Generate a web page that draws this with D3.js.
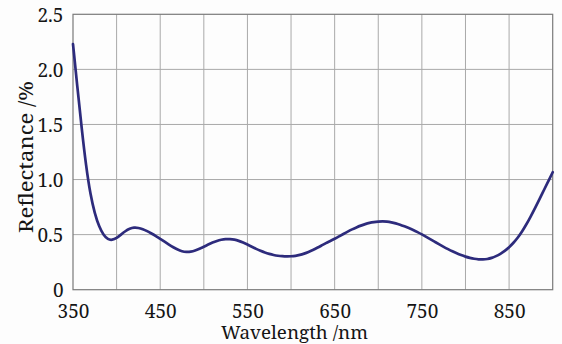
<!DOCTYPE html>
<html>
<head>
<meta charset="utf-8">
<script src="https://cdn.jsdelivr.net/npm/d3@7"></script>
<style>
  html, body { margin: 0; padding: 0; background: #fdfdfd; }
  svg { display: block; }
</style>
</head>
<body>
<svg id="chart" width="562" height="344"></svg>
<script>
// ---- data ----
const wavelength = [350,355,360,365,370,375,380,385,390,395,400,405,410,415,420,425,430,435,440,445,450,455,460,465,470,475,480,485,490,495,500,505,510,515,520,525,530,535,540,545,550,555,560,565,570,575,580,585,590,595,600,605,610,615,620,625,630,635,640,645,650,655,660,665,670,675,680,685,690,695,700,705,710,715,720,725,730,735,740,745,750,755,760,765,770,775,780,785,790,795,800,805,810,815,820,825,830,835,840,845,850,855,860,865,870,875,880,885,890,895,900];
const reflectance = [2.23,1.84,1.46,1.12,0.86,0.69,0.57,0.495,0.455,0.45,0.468,0.5,0.532,0.555,0.565,0.562,0.55,0.532,0.51,0.487,0.462,0.436,0.41,0.385,0.363,0.348,0.342,0.344,0.355,0.372,0.39,0.41,0.428,0.443,0.454,0.46,0.46,0.455,0.444,0.428,0.41,0.39,0.37,0.352,0.337,0.325,0.315,0.308,0.304,0.302,0.303,0.307,0.315,0.327,0.342,0.36,0.38,0.401,0.423,0.442,0.462,0.484,0.506,0.528,0.548,0.566,0.582,0.596,0.607,0.614,0.618,0.62,0.618,0.612,0.603,0.59,0.575,0.56,0.543,0.523,0.502,0.48,0.457,0.434,0.411,0.389,0.368,0.348,0.33,0.314,0.3,0.289,0.28,0.275,0.274,0.278,0.288,0.304,0.325,0.352,0.385,0.425,0.472,0.53,0.595,0.668,0.745,0.825,0.905,0.985,1.066];
const xTickValues = [350,450,550,650,750,850];
const xGridValues = [400,450,500,550,600,650,700,750,800,850];
const yTickValues = [0,0.5,1.0,1.5,2.0,2.5];
const yTickLabels = ["0","0.5","1.0","1.5","2.0","2.5"];
const xTitle = "Wavelength /nm";
const yTitle = "Reflectance /%";

// ---- layout ----
const FONT = "'Noto Serif', 'DejaVu Serif', serif";
const svg = d3.select("#chart");
const L = 73, R = 552.7, T = 14.3, B = 289.7;
const x = d3.scaleLinear().domain([350, 900]).range([L, R]);
const y = d3.scaleLinear().domain([0, 2.5]).range([B, T]);

// grid
const g = svg.append("g");
g.selectAll(".vg").data(xGridValues).join("line")
  .attr("x1", d => x(d)).attr("x2", d => x(d))
  .attr("y1", T).attr("y2", B)
  .attr("stroke", "#a9a9a9").attr("stroke-width", 1);
g.selectAll(".hg").data(yTickValues.slice(1, -1)).join("line")
  .attr("x1", L).attr("x2", R)
  .attr("y1", d => y(d)).attr("y2", d => y(d))
  .attr("stroke", "#a9a9a9").attr("stroke-width", 1);

// frame
svg.append("rect")
  .attr("x", L).attr("y", T).attr("width", R - L).attr("height", B - T)
  .attr("fill", "none").attr("stroke", "#7a7a7a").attr("stroke-width", 1.2);

// axes via d3 axis (labels only)
const xAxis = d3.axisBottom(x).tickValues(xTickValues).tickSize(0).tickPadding(0).tickFormat(d3.format("d"));
const xa = svg.append("g").attr("transform", `translate(0,${B})`).call(xAxis);
xa.select(".domain").remove();
xa.selectAll("text")
  .attr("dy", null).attr("y", 28.8)
  .attr("fill", "#151515")
  .style("font-family", FONT).style("font-size", "19px");

const yAxis = d3.axisLeft(y).tickValues(yTickValues).tickSize(0).tickPadding(9.5)
  .tickFormat((d, i) => yTickLabels[i]);
const ya = svg.append("g").attr("transform", `translate(${L},0)`).call(yAxis);
ya.select(".domain").remove();
ya.selectAll("text")
  .attr("dy", "0.36em")
  .attr("fill", "#151515")
  .style("font-family", FONT).style("font-size", "19px");

// curve
const pts = wavelength.map((w, i) => [w, reflectance[i]]);
const line = d3.line().x(d => x(d[0])).y(d => y(d[1])).curve(d3.curveBasis);
svg.append("path")
  .datum(pts)
  .attr("d", line)
  .attr("fill", "none")
  .attr("stroke", "#2d2b7c")
  .attr("stroke-width", 2.7)
  .attr("stroke-linejoin", "round")
  .attr("stroke-linecap", "round");

// titles
svg.append("text")
  .attr("x", 221).attr("y", 339.3)
  .attr("textLength", 147).attr("lengthAdjust", "spacingAndGlyphs")
  .attr("fill", "#151515")
  .style("font-family", FONT).style("font-size", "18px")
  .text(xTitle);

svg.append("text")
  .attr("transform", "translate(32.5,233) rotate(-90)")
  .attr("x", 0).attr("y", 0)
  .attr("textLength", 152).attr("lengthAdjust", "spacingAndGlyphs")
  .attr("fill", "#151515")
  .style("font-family", FONT).style("font-size", "19.5px")
  .text(yTitle);
</script>
</body>
</html>
